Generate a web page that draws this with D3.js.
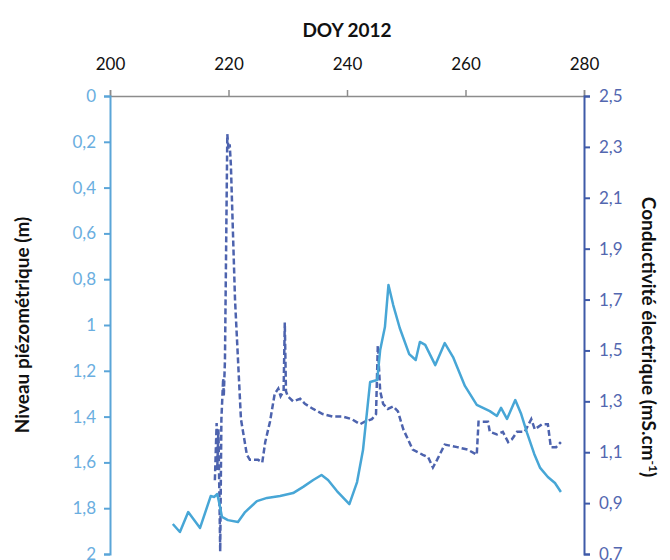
<!DOCTYPE html>
<html>
<head>
<meta charset="utf-8">
<script src="https://cdn.jsdelivr.net/npm/d3@7"></script>
<style>
  body { margin: 0; background: #fff; }
  #chart { width: 670px; height: 560px; }
  text { font-family: Lato, "Open Sans", sans-serif; }
</style>
</head>
<body>
<div id="chart"></div>
<script>
// day of year ticks (top axis)
const doyTicks = [200, 220, 240, 260, 280];
const levelTicks = [0, 0.2, 0.4, 0.6, 0.8, 1, 1.2, 1.4, 1.6, 1.8, 2];
const condTicks = [0.7, 0.9, 1.1, 1.3, 1.5, 1.7, 1.9, 2.1, 2.3, 2.5];

// piezometric level (m), left axis, solid line
const levelDoy = [210.6, 211.8, 213.2, 215.2, 217.0, 217.6, 218.1, 218.4, 218.9, 219.9,
  221.6, 222.8, 224.8, 226.5, 228.7, 230.9, 232.6, 234.3, 235.7, 236.8,
  238.3, 240.4, 241.7, 242.7, 243.9, 245.1, 245.6, 246.4, 247.0, 247.8,
  248.9, 250.5, 251.6, 252.3, 253.2, 254.9, 256.5, 257.9, 259.9, 261.9,
  264.1, 265.3, 266.0, 267.0, 268.4, 269.4, 270.4, 271.6, 272.6, 273.9,
  275.1, 276.1];
const levelVal = [1.869, 1.904, 1.817, 1.886, 1.747, 1.751, 1.738, 1.773, 1.838, 1.852,
  1.860, 1.817, 1.769, 1.755, 1.747, 1.734, 1.707, 1.677, 1.655, 1.677,
  1.725, 1.782, 1.686, 1.546, 1.249, 1.240, 1.109, 1.009, 0.825, 0.913,
  1.013, 1.127, 1.153, 1.074, 1.087, 1.175, 1.079, 1.140, 1.266, 1.349,
  1.376, 1.397, 1.362, 1.410, 1.328, 1.389, 1.472, 1.563, 1.624, 1.664,
  1.690, 1.729];

// electrical conductivity (mS/cm), right axis, dashed line
const condDoy = [217.7, 218.0, 218.1, 218.3, 218.6, 218.8, 219.1, 219.2, 219.4, 219.8,
  220.0, 220.2, 220.4, 221.1, 222.1, 223.1, 223.6, 225.0, 225.7, 226.2,
  227.0, 227.8, 228.4, 228.8, 229.3, 229.5, 229.7, 230.0, 230.9, 232.1,
  232.9, 234.3, 235.9, 237.6, 239.3, 240.8, 242.2, 243.0, 244.2, 244.9,
  245.2, 245.6, 246.1, 246.9, 247.8, 248.6, 249.5, 251.1, 252.8, 253.7,
  254.5, 255.2, 256.5, 258.6, 260.4, 261.9, 262.2, 263.8, 264.1, 265.3,
  266.3, 267.2, 267.8, 268.7, 270.0, 271.1, 271.7, 272.9, 273.9, 274.4,
  275.3, 276.1];
const condVal = [0.99, 1.215, 1.03, 1.19, 0.71, 1.23, 1.39, 1.32, 1.46, 2.35,
  2.29, 2.31, 2.23, 1.70, 1.23, 1.09, 1.07, 1.07, 1.06, 1.14,
  1.22, 1.33, 1.35, 1.32, 1.34, 1.61, 1.34, 1.32, 1.30, 1.31,
  1.29, 1.27, 1.25, 1.24, 1.24, 1.23, 1.21, 1.22, 1.23, 1.25,
  1.52, 1.34, 1.29, 1.27, 1.28, 1.26, 1.19, 1.11, 1.09, 1.08,
  1.04, 1.07, 1.13, 1.12, 1.11, 1.09, 1.22, 1.22, 1.18, 1.17,
  1.18, 1.14, 1.15, 1.18, 1.18, 1.23, 1.19, 1.21, 1.21, 1.12,
  1.12, 1.14];

const width = 670, height = 560;
const margin = { top: 96, right: 86, bottom: 6, left: 110 };

const svg = d3.select("#chart").append("svg")
  .attr("width", width)
  .attr("height", height);

const x = d3.scaleLinear().domain([200, 280]).range([margin.left, width - margin.right]);
const yL = d3.scaleLinear().domain([0, 2]).range([margin.top, height - margin.bottom]);
const yR = d3.scaleLinear().domain([0.7, 2.5]).range([height - margin.bottom, margin.top]);

const fmt = d => String(d).replace(".", ",");

// top axis
const gx = svg.append("g")
  .attr("transform", `translate(0,${margin.top})`)
  .call(d3.axisTop(x).tickValues(doyTicks).tickSize(6).tickSizeOuter(6).tickPadding(20));
gx.select(".domain").attr("stroke", "#8c8c8c").attr("stroke-width", 1.5);
gx.selectAll(".tick line").attr("stroke", "#8c8c8c").attr("stroke-width", 1.5);
gx.selectAll("text").attr("fill", "#111").style("font-size", "17px");

// left axis
const gl = svg.append("g")
  .attr("transform", `translate(${margin.left},0)`)
  .call(d3.axisLeft(yL).tickValues(levelTicks).tickFormat(fmt).tickSize(6).tickSizeOuter(6).tickPadding(8));
gl.select(".domain").attr("stroke", "#5aa5d8").attr("stroke-width", 2);
gl.selectAll(".tick line").attr("stroke", "#5aa5d8").attr("stroke-width", 2);
gl.selectAll("text").attr("fill", "#6aaee0").style("font-size", "17px");

// right axis
const gr = svg.append("g")
  .attr("transform", `translate(${width - margin.right},0)`)
  .call(d3.axisRight(yR).tickValues(condTicks).tickFormat(fmt).tickSize(6).tickSizeOuter(6).tickPadding(9));
gr.select(".domain").attr("stroke", "#3f5aa8").attr("stroke-width", 2);
gr.selectAll(".tick line").attr("stroke", "#3f5aa8").attr("stroke-width", 2);
gr.selectAll("text").attr("fill", "#5367b0").style("font-size", "17px");

// titles
svg.append("text")
  .attr("x", 347).attr("y", 37)
  .attr("text-anchor", "middle")
  .style("font-size", "19px").style("font-weight", "bold")
  .attr("fill", "#111")
  .text("DOY 2012");

svg.append("text")
  .attr("transform", "translate(29,325) rotate(-90)")
  .attr("text-anchor", "middle")
  .style("font-size", "19px").style("font-weight", "bold")
  .attr("fill", "#111")
  .text("Niveau piézométrique (m)");

const rt = svg.append("text")
  .attr("transform", "translate(642,337) rotate(90)")
  .attr("text-anchor", "middle")
  .style("font-size", "19px").style("font-weight", "bold")
  .attr("fill", "#111");
rt.append("tspan").text("Conductivité électrique (mS.cm");
rt.append("tspan").attr("dy", -7).style("font-size", "12px").text("-1");
rt.append("tspan").attr("dy", 7).text(")");

// lines
const levelData = levelDoy.map((d, i) => ({ doy: d, v: levelVal[i] }));
const condData = condDoy.map((d, i) => ({ doy: d, v: condVal[i] }));

svg.append("path")
  .datum(condData)
  .attr("fill", "none")
  .attr("stroke", "#4d63ae")
  .attr("stroke-width", 2.5)
  .attr("stroke-dasharray", "6,3")
  .attr("d", d3.line().x(d => x(d.doy)).y(d => yR(d.v)));

svg.append("path")
  .datum(levelData)
  .attr("fill", "none")
  .attr("stroke", "#47a6d6")
  .attr("stroke-width", 2.5)
  .attr("stroke-linejoin", "round")
  .attr("d", d3.line().x(d => x(d.doy)).y(d => yL(d.v)));
</script>
</body>
</html>
